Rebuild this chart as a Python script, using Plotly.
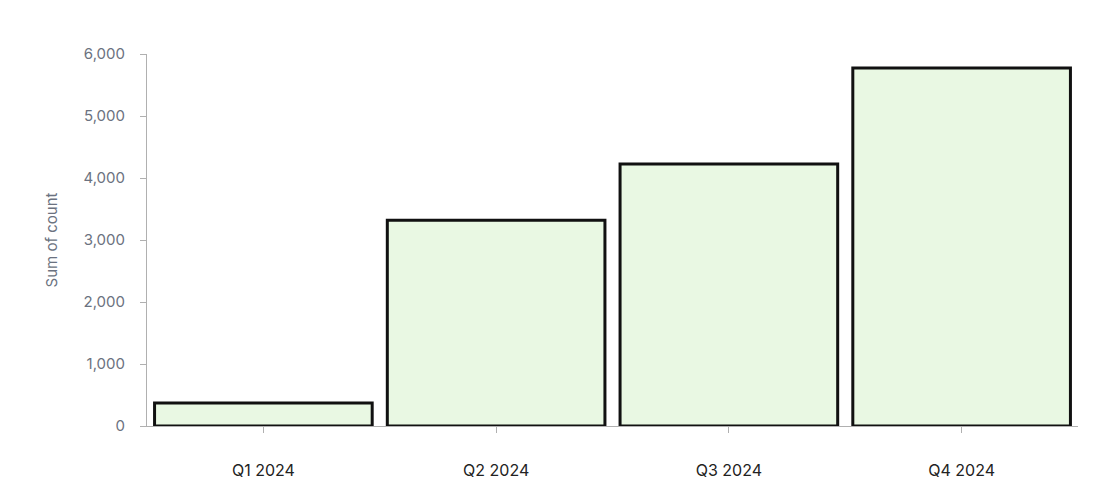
import plotly.graph_objects as go

categories = ["Q1 2024", "Q2 2024", "Q3 2024", "Q4 2024"]
counts = [370, 3320, 4225, 5775]
y_ticks = [0, 1000, 2000, 3000, 4000, 5000, 6000]
y_tick_labels = ["0", "1,000", "2,000", "3,000", "4,000", "5,000", "6,000"]

fig = go.Figure(go.Bar(
    x=categories, y=counts,
    marker=dict(color="#e9f8e3", line=dict(color="#111111", width=3)),
))

fig.update_layout(
    width=1112, height=504,
    margin=dict(l=139, r=42, t=46, b=86, autoexpand=False),
    plot_bgcolor="white", paper_bgcolor="white",
    bargap=0.065,
    showlegend=False,
    font=dict(family="Inter, Open Sans, sans-serif"),
)
fig.update_xaxes(
    showline=True, linecolor="#b0b0b0", linewidth=1,
    ticks="outside", ticklen=6, tickcolor="#b0b0b0",
    tickfont=dict(size=16, color="#222222"),
    ticklabelstandoff=24,
    showgrid=False,
)
fig.update_yaxes(
    range=[0, 6000],
    tickvals=y_ticks, ticktext=y_tick_labels,
    showline=True, linecolor="#b0b0b0", linewidth=1,
    ticks="outside", ticklen=6, tickcolor="#b0b0b0",
    tickfont=dict(size=15, color="#6b7280"),
    ticklabelstandoff=12,
    showgrid=False, zeroline=False,
    title=dict(text="Sum of count", font=dict(size=15, color="#6b7280"), standoff=22),
)

fig.write_html("out.html")
